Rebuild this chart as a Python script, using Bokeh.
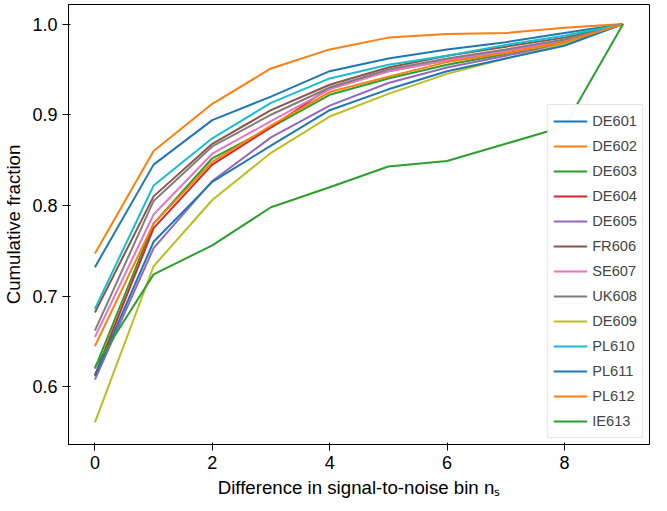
from bokeh.plotting import figure
from bokeh.models import Legend, FixedTicker, NumeralTickFormatter
from bokeh.embed import file_html
from bokeh.resources import INLINE

x = list(range(10))
names = ["DE601", "DE602", "DE603", "DE604", "DE605", "FR606", "SE607",
         "UK608", "DE609", "PL610", "PL611", "PL612", "IE613"]
colors = ["#1f77b4", "#ff7f0e", "#2ca02c", "#d62728", "#9467bd", "#8c564b", "#e377c2",
          "#7f7f7f", "#bcbd22", "#17becf", "#1f77b4", "#ff7f0e", "#2ca02c"]
DE601 = [0.732, 0.845, 0.894, 0.920, 0.948, 0.962, 0.972, 0.980, 0.990, 1.0]
DE602 = [0.747, 0.860, 0.912, 0.951, 0.972, 0.985, 0.989, 0.990, 0.996, 1.0]
DE603 = [0.620, 0.780, 0.852, 0.886, 0.922, 0.940, 0.955, 0.967, 0.979, 1.0]
DE604 = [0.613, 0.775, 0.845, 0.886, 0.930, 0.948, 0.960, 0.970, 0.981, 1.0]
DE605 = [0.608, 0.753, 0.827, 0.875, 0.910, 0.935, 0.952, 0.965, 0.978, 1.0]
FR606 = [0.682, 0.810, 0.868, 0.905, 0.933, 0.952, 0.965, 0.975, 0.985, 1.0]
SE607 = [0.655, 0.790, 0.857, 0.893, 0.928, 0.948, 0.960, 0.970, 0.982, 1.0]
UK608 = [0.662, 0.805, 0.865, 0.900, 0.930, 0.950, 0.962, 0.972, 0.983, 1.0]
DE609 = [0.561, 0.733, 0.806, 0.858, 0.898, 0.923, 0.945, 0.962, 0.978, 1.0]
PL610 = [0.686, 0.822, 0.874, 0.913, 0.940, 0.955, 0.965, 0.977, 0.987, 1.0]
PL611 = [0.612, 0.760, 0.826, 0.866, 0.905, 0.928, 0.948, 0.962, 0.976, 1.0]
PL612 = [0.645, 0.780, 0.848, 0.888, 0.925, 0.942, 0.958, 0.968, 0.980, 1.0]
IE613 = [0.622, 0.724, 0.756, 0.798, 0.820, 0.843, 0.849, 0.868, 0.887, 1.0]
series = [DE601, DE602, DE603, DE604, DE605, FR606, SE607, UK608, DE609,
          PL610, PL611, PL612, IE613]

p = figure(width=651, height=500, output_backend="svg", toolbar_location=None,
           x_range=(-0.45, 9.45), y_range=(0.5365, 1.0215))
p.xgrid.visible = False
p.ygrid.visible = False
p.outline_line_color = "black"
p.min_border_right = 2
p.min_border_top = 4

items = []
for n, c, s in zip(names, colors, series):
    r = p.line(x, s, line_color=c, line_width=2)
    items.append((n, [r]))

leg = Legend(items=items, location="bottom_right", label_text_font_size="11pt",
             glyph_width=34, glyph_height=22, spacing=3, label_height=22,
             border_line_color="#cccccc", margin=6, padding=5)
p.add_layout(leg)

p.xaxis.ticker = FixedTicker(ticks=[0, 2, 4, 6, 8])
p.yaxis.ticker = FixedTicker(ticks=[0.6, 0.7, 0.8, 0.9, 1.0])
p.yaxis.formatter = NumeralTickFormatter(format="0.0")
for ax in (p.xaxis, p.yaxis):
    ax.major_label_text_font_size = "13.5pt"
    ax.axis_label_text_font_size = "14pt"
    ax.axis_label_text_font_style = "normal"
    ax.minor_tick_line_color = None
    ax.major_label_text_color = "black"
    ax.axis_label_text_color = "black"
p.xaxis.axis_label = "Difference in signal-to-noise bin n\u209b"
p.yaxis.axis_label = "Cumulative fraction"

open("out.html", "w").write(file_html(p, INLINE))
